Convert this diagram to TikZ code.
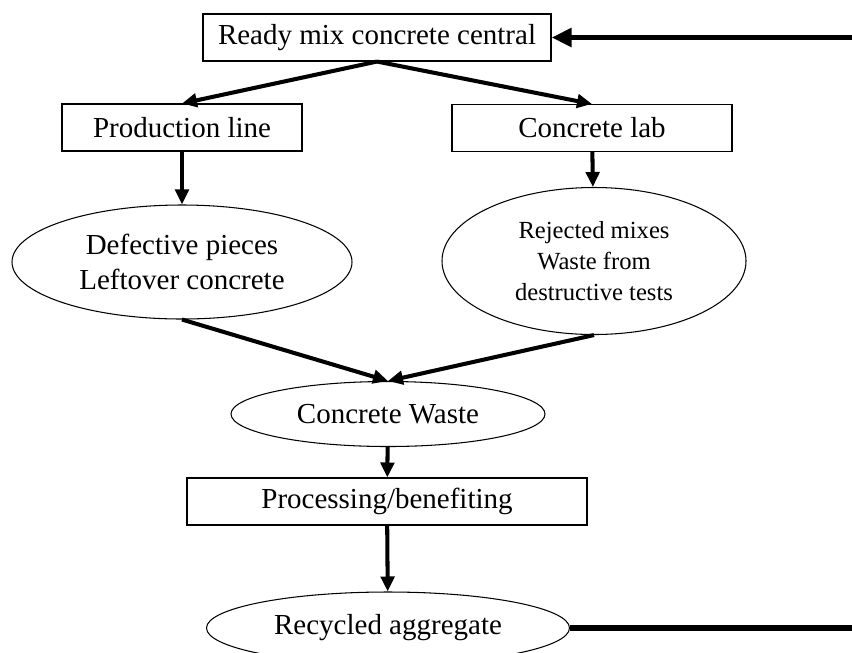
\documentclass[tikz,border=0pt]{standalone}
\usepackage{fontspec}
\setmainfont{Liberation Serif}
\usetikzlibrary{arrows.meta,shapes.geometric}

\begin{document}
\begin{tikzpicture}[
    box/.style={draw, line width=0.6pt, rectangle, inner sep=0pt, minimum height=0.94cm, font=\fontsize{16.5}{20}\selectfont},
    blob/.style={draw, line width=0.6pt, ellipse, inner sep=0pt, align=center, font=\fontsize{16.5}{20}\selectfont},
    flow/.style={line width=2.3pt, -{Triangle[length=0.3cm,width=0.27cm]}},
  ]
    \useasboundingbox (0,0) rectangle (17.04,-13.04);
    \node[box, minimum width=6.96cm] (central) at (7.54,-0.75) {Ready mix concrete central};
    \node[box, minimum width=4.8cm] (prod) at (3.64,-2.55) {Production line};
    \node[box, minimum width=5.6cm] (lab) at (11.84,-2.56) {Concrete lab};
    \node[blob, minimum width=6.8cm, minimum height=2.28cm] (defect) at (3.64,-5.24) {Defective pieces\\Leftover concrete};
    \node[blob, minimum width=6.08cm, minimum height=2.94cm, font=\fontsize{14}{17.5}\selectfont] (reject) at (11.88,-5.22) {Rejected mixes\\Waste from\\destructive tests};
    \node[blob, minimum width=6.28cm, minimum height=1.3cm] (waste) at (7.76,-8.28) {Concrete Waste};
    \node[box, minimum width=8cm] (process) at (7.74,-10.03) {Processing/benefiting};
    \node[blob, minimum width=7.26cm, minimum height=1.44cm] (recycled) at (7.76,-12.56) {Recycled aggregate};
    \coordinate (feed) at (17.04,-0.75);
    \coordinate (sink) at (17.04,-12.56);
    \draw[flow] (central.south) -- (prod.north);
    \draw[flow] (central.south) -- (lab.north);
    \draw[flow] (prod) -- (defect);
    \draw[flow] (lab) -- (reject);
    \draw[flow] (defect.south) -- (waste.north);
    \draw[flow] (reject.south) -- (waste.north);
    \draw[flow] (waste) -- (process);
    \draw[flow] (process) -- (recycled);
    \draw[line width=2.85pt, -{Triangle[length=0.4cm,width=0.36cm]}] (feed) -- (central.east);
    \draw[line width=3.2pt] (recycled.east) -- (sink);
  \end{tikzpicture}
\end{document}
